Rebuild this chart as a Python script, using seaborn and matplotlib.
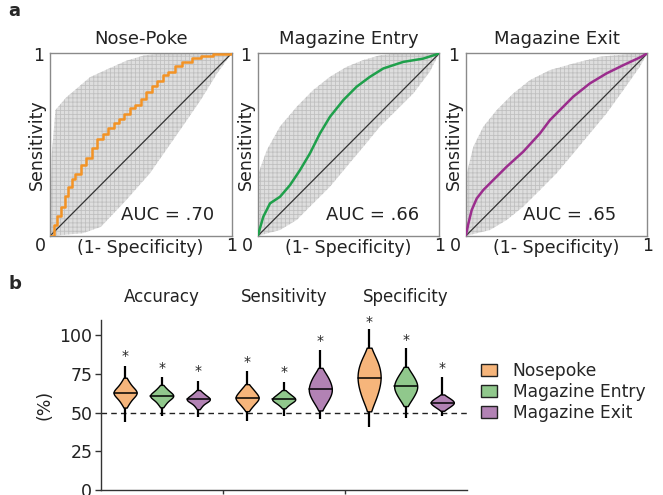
import numpy as np
import pandas as pd
import matplotlib
matplotlib.use("Agg")
import matplotlib.pyplot as plt
from matplotlib.patches import Patch
import seaborn as sns

sns.set_theme(style="white")
plt.rcParams['font.family'] = ['DejaVu Sans']
plt.rcParams['hatch.linewidth'] = 0.6

# ---------------- data: ROC panels ----------------
roc_titles = ["Nose-Poke", "Magazine Entry", "Magazine Exit"]
auc_labels = ["AUC = .70", "AUC = .66", "AUC = .65"]

np_fpr = [0, 0.02, 0.04, 0.06, 0.08, 0.10, 0.12, 0.14, 0.17, 0.20, 0.23, 0.26, 0.29, 0.32,
          0.35, 0.38, 0.41, 0.44, 0.47, 0.50, 0.53, 0.56, 0.59, 0.62, 0.65, 0.69, 0.73,
          0.78, 0.83, 0.90, 1.0]
np_tpr = [0, 0.06, 0.11, 0.16, 0.22, 0.27, 0.31, 0.34, 0.39, 0.43, 0.48, 0.53, 0.56, 0.59,
          0.62, 0.64, 0.67, 0.70, 0.72, 0.75, 0.79, 0.82, 0.85, 0.88, 0.90, 0.93, 0.955,
          0.975, 0.988, 0.996, 1.0]
me_fpr = [0, 0.031, 0.068, 0.123, 0.178, 0.233, 0.288, 0.343, 0.398, 0.472, 0.545, 0.618,
          0.692, 0.802, 0.912, 1.0]
me_tpr = [0, 0.106, 0.179, 0.215, 0.279, 0.361, 0.453, 0.562, 0.653, 0.745, 0.818, 0.872,
          0.918, 0.954, 0.972, 1.0]
mx_fpr = [0, 0.015, 0.033, 0.061, 0.097, 0.152, 0.226, 0.317, 0.409, 0.464, 0.519, 0.592,
          0.684, 0.776, 0.868, 0.959, 1.0]
mx_tpr = [0, 0.069, 0.142, 0.206, 0.252, 0.307, 0.38, 0.462, 0.562, 0.635, 0.69, 0.763,
          0.836, 0.891, 0.936, 0.978, 1.0]

# envelopes of the individual (gray) ROC curves
np_up_x = [0, 0.01, 0.03, 0.09, 0.15, 0.22, 0.33, 0.42, 0.52, 0.61, 1.0]
np_up_y = [0, 0.45, 0.69, 0.76, 0.81, 0.87, 0.92, 0.96, 0.99, 1.0, 1.0]
np_lo_x = [0, 0.18, 0.28, 0.42, 0.55, 0.73, 0.83, 0.92, 1.0]
np_lo_y = [0, 0.015, 0.05, 0.197, 0.343, 0.6, 0.745, 0.89, 1.0]
me_up_x = [0, 0.004, 0.05, 0.123, 0.215, 0.306, 0.398, 0.49, 0.582, 0.673, 0.765, 1.0]
me_up_y = [0, 0.343, 0.47, 0.6, 0.708, 0.8, 0.872, 0.927, 0.964, 0.99, 1.0, 1.0]
me_lo_x = [0, 0.123, 0.215, 0.306, 0.398, 0.49, 0.582, 0.673, 0.765, 0.857, 0.948, 1.0]
me_lo_y = [0, 0.033, 0.088, 0.179, 0.27, 0.38, 0.489, 0.599, 0.69, 0.781, 0.9, 1.0]
mx_up_x = [0, 0.006, 0.042, 0.097, 0.171, 0.262, 0.354, 0.464, 0.593, 0.739, 0.886, 1.0]
mx_up_y = [0, 0.343, 0.489, 0.599, 0.69, 0.781, 0.854, 0.909, 0.945, 0.982, 0.996, 1.0]
mx_lo_x = [0, 0.134, 0.226, 0.317, 0.409, 0.5, 0.593, 0.684, 0.776, 0.868, 0.959, 1.0]
mx_lo_y = [0, 0.033, 0.088, 0.161, 0.252, 0.343, 0.453, 0.562, 0.672, 0.799, 0.927, 1.0]

# ---------------- data: violins ----------------
metrics = ["Accuracy", "Sensitivity", "Specificity"]
events = ["Nosepoke", "Magazine Entry", "Magazine Exit"]
# body values of each violin
acc_np = [56, 59, 61, 62.5, 63, 63.5, 65, 67, 70]
acc_me = [55.5, 58, 59.5, 60.5, 61, 61.5, 62.5, 64, 66]
acc_mx = [54, 56.5, 57.5, 58.3, 58.8, 59.3, 60, 61.5, 63]
sen_np = [53.5, 56, 57.8, 59, 59.8, 60.6, 62, 64, 66]
sen_me = [54.5, 56.5, 57.5, 58.2, 58.8, 59.4, 60.2, 61.5, 63]
sen_mx = [55.5, 59, 61.5, 63.5, 65.2, 67, 69.5, 72, 75]
spe_np = [57, 62, 66, 69.5, 72.4, 75, 78.5, 82, 86]
spe_me = [58, 61, 63.5, 65.5, 67, 68.5, 70.5, 73, 76]
spe_mx = [52.8, 54.2, 55.2, 56, 56.6, 57.2, 58, 59, 60.3]
# extreme values (thin tails)
tail_min = [[44, 48.2, 47.5], [44.7, 48, 45.8], [41, 46.9, 48.2]]
tail_max = [[80.4, 73, 70.6], [77, 70.2, 90.7], [104, 91.8, 73]]
star_y = [[89.6, 82.1, 79.9], [86.0, 79.3, 99.4], [111.7, 100.0, 82.1]]
yticks = [0, 25, 50, 75, 100]

line_colors = ["#F39325", "#1FA04B", "#9B2D8D"]
fill_colors = ["#F6B57B", "#90C88C", "#B282B4"]
TXT = "#222222"

# ---------------- figure ----------------
fig = plt.figure(figsize=(6.63, 4.95), dpi=100)
W, H = 663, 495


def px_axes(l, t, w, h):
    return fig.add_axes([l / W, 1 - (t + h) / H, w / W, h / H])


roc_sets = [
    (np_fpr, np_tpr, np_up_x, np_up_y, np_lo_x, np_lo_y),
    (me_fpr, me_tpr, me_up_x, me_up_y, me_lo_x, me_lo_y),
    (mx_fpr, mx_tpr, mx_up_x, mx_up_y, mx_lo_x, mx_lo_y),
]
lefts = [50, 257.7, 465.7]
auc_x = [0.645, 0.632, 0.57]
ylab_x = [-0.073, -0.066, -0.066]

for i in range(3):
    ax = px_axes(lefts[i], 53.5, 181.5, 182.5)
    fpr, tpr, ux, uy, lx, ly = roc_sets[i]
    px = np.concatenate([ux, lx[::-1]])
    py = np.concatenate([uy, ly[::-1]])
    ax.fill(px, py, facecolor="#dedede", edgecolor="#c0c0c0", hatch="++++",
            linewidth=0, zorder=1)
    ax.plot([0, 1], [0, 1], color="#333333", lw=0.9, zorder=2)
    df = pd.DataFrame({"fpr": fpr, "tpr": tpr})
    sns.lineplot(data=df, x="fpr", y="tpr", ax=ax, color=line_colors[i], lw=1.8,
                 estimator=None, sort=False, zorder=3,
                 drawstyle="steps-post" if i == 0 else "default")
    ax.set_xlim(0, 1)
    ax.set_ylim(0, 1)
    ax.set_xticks([])
    ax.set_yticks([])
    ax.set_xlabel("")
    ax.set_ylabel("")
    for s in ax.spines.values():
        s.set_color("#8a8a8a")
        s.set_linewidth(1.0)
    ax.set_title(roc_titles[i], fontsize=13, pad=7, color=TXT)
    ax.text(auc_x[i], 0.115, auc_labels[i], transform=ax.transAxes, ha="center",
            va="center", fontsize=13, color=TXT, zorder=5)
    ax.text(-0.055, -0.055, "0", transform=ax.transAxes, ha="center", va="center",
            fontsize=12.5, color=TXT)
    ax.text(-0.065, 0.985, "1", transform=ax.transAxes, ha="center", va="center",
            fontsize=12.5, color=TXT)
    ax.text(1.0, -0.055, "1", transform=ax.transAxes, ha="center", va="center",
            fontsize=12.5, color=TXT)
    ax.text(0.497, -0.066, "(1- Specificity)", transform=ax.transAxes, ha="center",
            va="center", fontsize=12.5, color=TXT)
    ax.text(ylab_x[i], 0.5, "Sensitivity", transform=ax.transAxes, ha="center",
            va="center", rotation=90, fontsize=12.5, color=TXT)

fig.text(8 / W, 1 - 11 / H, "a", fontsize=13, fontweight="bold", va="center")
fig.text(8 / W, 1 - 284 / H, "b", fontsize=13, fontweight="bold", va="center")

# ---------------- violins ----------------
axb = px_axes(100.7, 320, 366, 170)
samples = [[acc_np, acc_me, acc_mx], [sen_np, sen_me, sen_mx], [spe_np, spe_me, spe_mx]]
rows = []
for mi, m in enumerate(metrics):
    for ei, e in enumerate(events):
        for v in samples[mi][ei]:
            rows.append((m, e, v))
vdf = pd.DataFrame(rows, columns=["metric", "event", "value"])

offsets = [-0.3, 0.0, 0.3]
# thin tails from min to max
for mi in range(3):
    for ei in range(3):
        cx = mi + offsets[ei]
        axb.plot([cx, cx], [tail_min[mi][ei], tail_max[mi][ei]], color="black",
                 lw=1.6, zorder=0.5, solid_capstyle="butt")

sns.violinplot(data=vdf, x="metric", y="value", hue="event", order=metrics,
               hue_order=events, palette=fill_colors, width=0.9, gap=0.37,
               cut=1, inner=None, density_norm="width", bw_adjust=1.0,
               linewidth=1.0, linecolor="black", saturation=1, ax=axb, legend=False)

# median lines spanning violin width
polys = [c for c in axb.collections]
for mi in range(3):
    for ei in range(3):
        cx = mi + offsets[ei]
        med = float(np.median(samples[mi][ei]))
        best = None
        for c in polys:
            for p in c.get_paths():
                v = p.vertices
                if len(v) > 4 and abs((v[:, 0].min() + v[:, 0].max()) / 2 - cx) < 0.05:
                    best = v
        if best is not None:
            left = best[best[:, 0] <= cx + 1e-9]
            order = np.argsort(left[:, 1])
            xl = np.interp(med, left[order, 1], left[order, 0])
            hw = cx - xl
            axb.plot([cx - hw, cx + hw], [med, med], color="black", lw=1.1, zorder=5)
        axb.text(cx, star_y[mi][ei] - 3.0, "*", ha="center", va="center",
                 fontsize=10, color=TXT)

axb.axhline(50, color=TXT, lw=1.0, ls=(0, (4, 3)), zorder=0)
axb.set_xlim(-0.5, 2.5)
axb.set_ylim(0, 110)
axb.set_yticks(yticks)
axb.set_yticklabels([str(t) for t in yticks], fontsize=12.5, color=TXT)
axb.set_xticks([0.5, 1.5])
axb.set_xticklabels([])
axb.tick_params(axis="y", length=4, width=1, color="#333333", left=True, pad=2)
axb.tick_params(axis="x", length=3, width=1, color="#333333", bottom=True)
axb.set_xlabel("")
axb.set_ylabel("(%)", fontsize=12.5, color=TXT, labelpad=4)
for s in ["top", "right"]:
    axb.spines[s].set_visible(False)
for s in ["left", "bottom"]:
    axb.spines[s].set_color("#333333")
    axb.spines[s].set_linewidth(1.0)
for mi, m in enumerate(metrics):
    axb.text(mi, 119, m, ha="center", va="bottom", fontsize=12, color=TXT,
             clip_on=False)

handles = [Patch(facecolor=fill_colors[k], edgecolor=TXT, linewidth=1.0)
           for k in range(3)]
axb.legend(handles, events, loc="upper left", bbox_to_anchor=(1.039, 0.755),
           frameon=False, fontsize=12.3, borderpad=0, borderaxespad=0,
           handlelength=0.95, handleheight=0.7, handletextpad=0.9,
           labelspacing=0.18)

fig.savefig("out.png", dpi=100)
